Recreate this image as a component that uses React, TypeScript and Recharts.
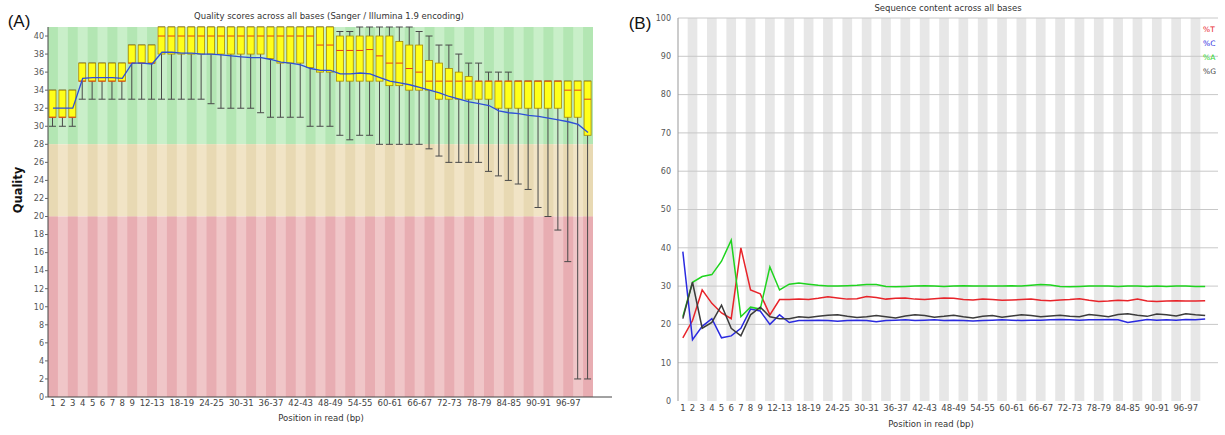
import React from "react";
import {
  ComposedChart,
  Line,
  Bar,
  XAxis,
  YAxis,
  ReferenceArea,
  ReferenceLine,
} from "recharts";

const POSITIONS = [
  "1", "2", "3", "4", "5", "6", "7", "8", "9", "10-11", "12-13", "14-15", "16-17", "18-19",
  "20-21", "22-23", "24-25", "26-27", "28-29", "30-31", "32-33", "34-35", "36-37", "38-39",
  "40-41", "42-43", "44-45", "46-47", "48-49", "50-51", "52-53", "54-55", "56-57", "58-59",
  "60-61", "62-63", "64-65", "66-67", "68-69", "70-71", "72-73", "74-75", "76-77", "78-79",
  "80-81", "82-83", "84-85", "86-87", "88-89", "90-91", "92-93", "94-95", "96-97", "98-99",
  "100-101",
];

const TICK_LABELS = [
  "1", "2", "3", "4", "5", "6", "7", "8", "9", "12-13", "18-19", "24-25", "30-31", "36-37",
  "42-43", "48-49", "54-55", "60-61", "66-67", "72-73", "78-79", "84-85", "90-91", "96-97",
];

const QUALITY_TICKS = [0, 2, 4, 6, 8, 10, 12, 14, 16, 18, 20, 22, 24, 26, 28, 30, 32, 34, 36, 38, 40];
const PERCENT_TICKS = [0, 10, 20, 30, 40, 50, 60, 70, 80, 90, 100];

// per-position quality box plot (10th pct, quartiles, median, 90th pct, mean)
const WHISKER_LOW = [
  30, 30, 30, 33, 33, 33, 33, 33, 33, 33, 33, 33, 33, 33, 33, 33, 32.5, 32, 32, 32, 32, 31.5,
  31, 31, 31, 31, 30, 30, 30, 29, 28.5, 29, 29, 28, 28, 28, 28, 28, 27.5, 26.7, 26, 26, 26, 26,
  25, 24.5, 24, 23.6, 23, 21, 20, 18.5, 15, 2, 2,
];
const Q1 = [
  31, 31, 31, 35, 35, 35, 35, 35, 37, 37, 37, 38, 38, 38, 38, 38, 38, 38, 38, 38, 38, 38, 37.5,
  37, 37, 37, 36.5, 36, 36, 35, 35, 35, 35, 35, 34.5, 34.5, 34, 34, 34, 33, 33, 33, 33, 33, 33,
  32, 32, 32, 32, 32, 32, 32, 31, 31, 29,
];
const MEDIAN = [
  31, 31, 31, 35, 35, 35, 35, 35, 37, 37, 37, 40, 40, 40, 40, 40, 40, 40, 40, 40, 40, 40, 40, 40,
  40, 40, 40, 39, 39, 38.4, 38.4, 38.4, 38.5, 37.8, 37, 37, 36.4, 36, 35, 35, 35, 35, 35, 35, 35,
  35, 35, 35, 35, 35, 35, 35, 34, 34, 33,
];
const Q3 = [
  34, 34, 34, 37, 37, 37, 37, 37, 39, 39, 39, 41, 41, 41, 41, 41, 41, 41, 41, 41, 41, 41, 41, 41,
  41, 41, 41, 41, 41, 40, 40, 40, 40, 40, 40, 39.4, 39, 39, 37.3, 37, 36.4, 36, 35.5, 35, 35, 35,
  35, 35, 35, 35, 35, 35, 35, 35, 35,
];
const WHISKER_HIGH = [
  34, 34, 34, 37, 37, 37, 37, 37, 39, 39, 39, 41, 41, 41, 41, 41, 41, 41, 41, 41, 41, 41, 41, 41,
  41, 41, 41, 41, 41, 40.5, 40.5, 41, 41, 41, 41, 41, 41, 40.5, 40, 39, 39, 38, 37, 37, 36, 36,
  36, 35, 35, 35, 35, 35, 35, 35, 35,
];
const MEAN = [
  32, 32, 32, 35.3, 35.4, 35.4, 35.4, 35.3, 37, 37, 36.9, 38.2, 38.2, 38.1, 38.1, 38, 38, 37.9,
  37.8, 37.7, 37.6, 37.6, 37.4, 37.1, 37, 36.8, 36.4, 36.2, 36.2, 35.8, 35.8, 35.9, 35.8, 35.4,
  35, 34.8, 34.6, 34.3, 34, 33.7, 33.3, 33, 32.7, 32.5, 32.3, 31.7, 31.5, 31.4, 31.2, 31.1, 30.9,
  30.7, 30.5, 30.2, 29.3,
];

// per-position base content (%)
const PCT_T = [
  16.5, 21, 29, 25.5, 23, 21.5, 40, 29, 28, 22.5, 26.5, 26.5, 26.6, 26.5, 26.8, 27.2, 26.9, 26.6,
  26.7, 27.3, 27, 26.6, 26.8, 26.9, 26.6, 26.5, 26.7, 26.9, 26.8, 26.5, 26.4, 26.6, 26.5, 26.3,
  26.4, 26.5, 26.6, 26.3, 26.2, 26.4, 26.5, 26.7, 26.3, 26, 26.1, 26.3, 26.2, 26.6, 26.1, 26,
  26.1, 26.2, 26.1, 26.1, 26.2,
];
const PCT_C = [
  39, 16, 19.5, 21.5, 16.5, 17, 19, 24, 23.5, 20, 22.5, 20.5, 21, 21, 21.1, 21, 20.8, 21, 21.1,
  21, 20.7, 21, 21.1, 21.2, 21, 21.1, 21.2, 21, 21.1, 21, 20.9, 21, 21.1, 21.2, 21.1, 21, 21.1,
  21.1, 21.2, 21.3, 21.2, 21.1, 21.2, 21.2, 21.3, 21.2, 20.5, 20.9, 21.3, 21.1, 21.2, 21.1, 21.3,
  21.2, 21.4,
];
const PCT_A = [
  22, 31, 32.5, 33, 36.5, 42, 22, 24.5, 24, 35, 29, 30.5, 30.8, 30.5, 30.2, 30, 30, 30.1, 30.2,
  30.4, 30.4, 29.9, 29.8, 29.9, 30, 30.1, 30, 29.9, 30, 30.1, 30, 30, 30, 30, 30.1, 30, 30.2, 30.4,
  30.3, 29.9, 29.8, 29.9, 30, 30, 30, 29.9, 30, 30, 29.9, 30, 29.9, 30, 30, 29.9, 29.9,
];
const PCT_G = [
  21.5, 31, 19, 20.5, 25, 19, 17, 22.5, 24.5, 22, 21.5, 21.5, 22, 21.8, 22.1, 22.4, 22.5, 22.1,
  21.8, 22, 22.3, 22, 21.7, 22.2, 22.5, 22.3, 21.9, 22.1, 22.4, 22, 21.7, 22.1, 22.3, 21.9, 22.2,
  22.5, 22.3, 22, 22.2, 22.4, 22.1, 22, 22.6, 22.3, 22, 22.6, 22.8, 22.4, 22.1, 22.7, 22.5, 22.2,
  22.8, 22.5, 22.3,
];

const BASES = [
  { key: "t", name: "%T", color: "#e8242a" },
  { key: "c", name: "%C", color: "#2a2ae0" },
  { key: "a", name: "%A", color: "#1fd41f" },
  { key: "g", name: "%G", color: "#3c3c3c" },
];

const FONT = "'DejaVu Sans', Verdana, sans-serif";

const qualityRows = POSITIONS.map((pos, i) => ({
  pos,
  range: [WHISKER_LOW[i], WHISKER_HIGH[i]],
  q1: Q1[i],
  median: MEDIAN[i],
  q3: Q3[i],
  mean: MEAN[i],
}));

const contentRows = POSITIONS.map((pos, i) => ({
  pos,
  t: PCT_T[i],
  c: PCT_C[i],
  a: PCT_A[i],
  g: PCT_G[i],
}));

// background zones of the quality plot
const ZONES = [
  { y1: 28, y2: 41, light: "#c9efc9", dark: "#b3e6b3" },
  { y1: 20, y2: 28, light: "#f1e4c6", dark: "#e8d9b3" },
  { y1: 0, y2: 20, light: "#f0c6c8", dark: "#e8adb2" },
];

const BoxShape = (props: any) => {
  const { x, y, width, height, payload } = props;
  if (x == null || y == null || !payload) return null;
  const [low, high] = payload.range;
  const top = Math.min(y, y + height);
  const bottom = Math.max(y, y + height);
  const toPx = (v: number) => top + ((bottom - top) * (high - v)) / (high - low);
  const cx = x + width / 2;
  const yQ1 = toPx(payload.q1);
  const yQ3 = toPx(payload.q3);
  const yMed = toPx(payload.median);
  return (
    <g>
      <line x1={cx} x2={cx} y1={top} y2={bottom} stroke="#4a4a4a" strokeWidth={1} />
      <line x1={x} x2={x + width} y1={top} y2={top} stroke="#4a4a4a" strokeWidth={1} />
      <line x1={x} x2={x + width} y1={bottom} y2={bottom} stroke="#4a4a4a" strokeWidth={1} />
      <rect
        x={x}
        y={yQ3}
        width={width}
        height={Math.max(yQ1 - yQ3, 0)}
        fill="#ffff1a"
        stroke="#a88a00"
        strokeWidth={0.8}
      />
      <line x1={x} x2={x + width} y1={yMed} y2={yMed} stroke="#e0401a" strokeWidth={1} />
    </g>
  );
};

const textStyle = (left: number, top: number, size: number, extra: any = {}) => ({
  position: "absolute" as const,
  left,
  top,
  transform: "translate(-50%, -50%)",
  fontFamily: FONT,
  fontSize: size,
  color: "#333",
  whiteSpace: "nowrap" as const,
  ...extra,
});

export default function App() {
  return (
    <div
      style={{
        position: "absolute",
        left: 0,
        top: 0,
        width: 1225,
        height: 435,
        background: "#fff",
        overflow: "hidden",
      }}
    >
      <div style={{ position: "absolute", left: 0, top: 0 }}>
        <ComposedChart
          width={615}
          height={435}
          data={qualityRows}
          margin={{ top: 27, right: 3, bottom: 0, left: 0 }}
        >
          {ZONES.map((z) => (
            <ReferenceArea
              key={`zone-${z.y1}`}
              x1={POSITIONS[0]}
              x2={POSITIONS[POSITIONS.length - 1]}
              y1={z.y1}
              y2={z.y2}
              fill={z.light}
              fillOpacity={1}
              stroke="none"
            />
          ))}
          {POSITIONS.filter((_, i) => i % 2 === 0).map((p) =>
            ZONES.map((z) => (
              <ReferenceArea
                key={`stripe-${p}-${z.y1}`}
                x1={p}
                x2={p}
                y1={z.y1}
                y2={z.y2}
                fill={z.dark}
                fillOpacity={1}
                stroke="none"
              />
            ))
          )}
          <XAxis
            dataKey="pos"
            ticks={TICK_LABELS}
            interval={0}
            height={38}
            padding={{ left: 0, right: 19 }}
            tickSize={0}
            tickMargin={3}
            tick={{ fontSize: 8.5, fill: "#444", fontFamily: FONT }}
            axisLine={{ stroke: "#444" }}
          />
          <YAxis
            domain={[0, 41]}
            ticks={QUALITY_TICKS}
            interval={0}
            width={48}
            tickSize={3}
            tickMargin={1}
            tick={{ fontSize: 8, fill: "#555", fontFamily: FONT }}
            axisLine={{ stroke: "#444" }}
            tickLine={{ stroke: "#666" }}
          />
          <Bar dataKey="range" barSize={7} shape={BoxShape} isAnimationActive={false} />
          <Line
            dataKey="mean"
            stroke="#2f4fd8"
            strokeWidth={1.3}
            dot={false}
            type="linear"
            isAnimationActive={false}
          />
        </ComposedChart>
      </div>

      <div style={{ position: "absolute", left: 610, top: 0 }}>
        <ComposedChart
          width={615}
          height={435}
          data={contentRows}
          margin={{ top: 18, right: 7, bottom: 0, left: 0 }}
        >
          {PERCENT_TICKS.filter((t) => t > 0).map((t) => (
            <ReferenceLine key={`grid-${t}`} y={t} stroke="#c8c8c8" strokeWidth={1} />
          ))}
          {POSITIONS.filter((_, i) => i % 2 === 1).map((p) => (
            <ReferenceArea
              key={`gstripe-${p}`}
              x1={p}
              x2={p}
              y1={0}
              y2={100}
              fill="#cfcfcf"
              fillOpacity={0.5}
              stroke="none"
            />
          ))}
          <XAxis
            dataKey="pos"
            scale="band"
            ticks={TICK_LABELS}
            interval={0}
            height={34}
            padding={{ left: 0, right: 8 }}
            tickSize={0}
            tickMargin={4}
            tick={{ fontSize: 8.5, fill: "#444", fontFamily: FONT }}
            axisLine={false}
          />
          <YAxis
            domain={[0, 100]}
            ticks={PERCENT_TICKS}
            interval={0}
            width={68}
            tickSize={0}
            tickMargin={7}
            tick={{ fontSize: 8, fill: "#555", fontFamily: FONT }}
            axisLine={{ stroke: "#999" }}
          />
          {BASES.map((b) => (
            <Line
              key={b.key}
              dataKey={b.key}
              name={b.name}
              stroke={b.color}
              strokeWidth={1.5}
              dot={false}
              type="linear"
              isAnimationActive={false}
            />
          ))}
        </ComposedChart>
      </div>

      <div
        style={{
          position: "absolute",
          left: 1203,
          top: 23,
          fontFamily: FONT,
          fontSize: 7.5,
          lineHeight: "14px",
        }}
      >
        {BASES.map((b) => (
          <div key={b.key} style={{ color: b.color }}>
            {b.name}
          </div>
        ))}
      </div>

      <div style={textStyle(19, 22, 17, { fontFamily: "'Liberation Sans', Arial, sans-serif", color: "#111" })}>
        (A)
      </div>
      <div style={textStyle(640, 24, 17, { fontFamily: "'Liberation Sans', Arial, sans-serif", color: "#111" })}>
        (B)
      </div>
      <div style={textStyle(329, 16, 8.5)}>
        Quality scores across all bases (Sanger / Illumina 1.9 encoding)
      </div>
      <div style={textStyle(948, 8, 8.5)}>Sequence content across all bases</div>
      <div style={textStyle(321, 418, 8.5)}>Position in read (bp)</div>
      <div style={textStyle(931, 424, 8.5)}>Position in read (bp)</div>
      <div
        style={textStyle(18, 190, 11.5, {
          transform: "translate(-50%, -50%) rotate(-90deg)",
          fontWeight: "bold",
          color: "#111",
        })}
      >
        Quality
      </div>
    </div>
  );
}
